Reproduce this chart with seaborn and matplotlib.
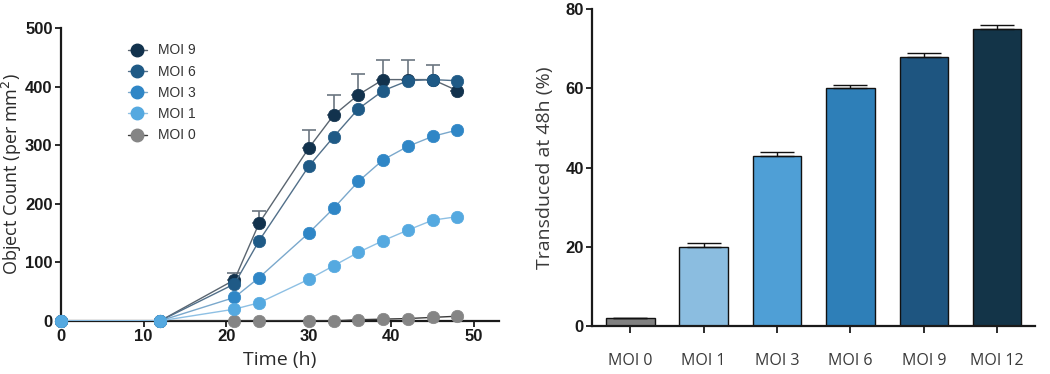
import matplotlib
matplotlib.use("Agg")
import matplotlib.pyplot as plt
import seaborn as sns
import pandas as pd
import numpy as np

# ---------------- data ----------------
time_h = [0, 12, 21, 24, 30, 33, 36, 39, 42, 45, 48]
moi9 = [0, 0, 70, 167, 295, 351, 386, 412, 412, 412, 393]
moi9_err = [0, 0, 11, 20, 31, 35, 35, 34, 34, 25, 0]
moi6 = [0, 0, 63, 137, 264, 314, 362, 393, 410, 412, 410]
moi3 = [0, 0, 40, 74, 150, 192, 238, 275, 298, 315, 326]
moi1 = [0, 0, 20, 31, 71, 94, 117, 137, 155, 172, 178]
moi0 = [0, 0, 0, 0, 0, 0, 2, 3, 4, 6, 8]

bar_labels = ["MOI 0", "MOI 1", "MOI 3", "MOI 6", "MOI 9", "MOI 12"]
bar_values = [2.1, 20.0, 43.0, 60.1, 68.0, 75.0]
bar_errors = [0.0, 1.0, 1.0, 0.8, 1.0, 1.0]

line_colors = {"MOI 9": "#12324d", "MOI 6": "#1f5a86", "MOI 3": "#2f86c6",
               "MOI 1": "#55a9e0", "MOI 0": "#858585"}
line_edge = {"MOI 9": "#5a6570", "MOI 6": "#52708a", "MOI 3": "#7aa8cc",
             "MOI 1": "#8ec0e4", "MOI 0": "#3a3a3a"}
bar_colors = ["#808080", "#8bbde0", "#4f9fd6", "#2e7fb8", "#1e5580", "#133448"]

# ---------------- figure ----------------
sns.set_theme(style="ticks")
plt.rcParams['font.family'] = ['Liberation Sans', 'DejaVu Sans']

fig = plt.figure(figsize=(10.5, 3.74), dpi=100)
ax1 = fig.add_axes([0.058, 0.142, 0.417, 0.783])
ax2 = fig.add_axes([0.564, 0.128, 0.422, 0.848])

# ---- left: time course ----
series = {"MOI 0": moi0, "MOI 9": moi9, "MOI 6": moi6, "MOI 3": moi3, "MOI 1": moi1}
rows = []
for name, vals in series.items():
    for t, v in zip(time_h, vals):
        rows.append({"Time": t, "Count": v, "MOI": name})
df = pd.DataFrame(rows)

# error bars for MOI 9 (upper only)
ax1.errorbar(time_h, moi9, yerr=[np.zeros(len(moi9)), moi9_err], fmt="none",
             ecolor="#6b7580", elinewidth=1.2, capsize=5, capthick=1.2, zorder=2)

order_draw = ["MOI 0", "MOI 9", "MOI 6", "MOI 3", "MOI 1"]
for i, name in enumerate(order_draw):
    sub = df[df["MOI"] == name]
    sns.lineplot(data=sub, x="Time", y="Count", ax=ax1, color=line_edge[name],
                 lw=1.0, zorder=3 + i, legend=False)
    sns.scatterplot(data=sub, x="Time", y="Count", ax=ax1, color=line_colors[name],
                    s=80, edgecolor=line_colors[name], linewidth=0.5,
                    zorder=3.5 + i, clip_on=False, legend=False)

ax1.set_xlim(0, 53)
ax1.set_ylim(0, 500)
ax1.set_xticks([0, 10, 20, 30, 40, 50])
ax1.set_yticks([0, 100, 200, 300, 400, 500])
for lab in ax1.get_xticklabels() + ax1.get_yticklabels():
    lab.set_fontweight("bold")
    lab.set_fontsize(12)
    lab.set_color("#1a1a1a")
ax1.tick_params(axis="both", length=4, width=1.3, color="#1a1a1a", pad=2)
for s in ["left", "bottom"]:
    ax1.spines[s].set_linewidth(1.6)
    ax1.spines[s].set_color("#1a1a1a")
sns.despine(ax=ax1)
ax1.set_xlabel("Time (h)", fontsize=14, family=["Open Sans", "DejaVu Sans"],
               color="#2a2a2a", labelpad=5)
ax1.set_ylabel("Object Count (per mm$^2$)", fontsize=13,
               family=["Open Sans", "DejaVu Sans"], color="#2a2a2a", labelpad=1)

# legend
from matplotlib.lines import Line2D
handles = [Line2D([0], [0], color=line_edge[n], lw=1.0, marker="o", markersize=9,
                  markerfacecolor=line_colors[n], markeredgecolor=line_colors[n])
           for n in ["MOI 9", "MOI 6", "MOI 3", "MOI 1", "MOI 0"]]
leg = ax1.legend(handles, ["MOI 9", "MOI 6", "MOI 3", "MOI 1", "MOI 0"],
                 loc="upper left", bbox_to_anchor=(0.124, 0.99), frameon=False,
                 fontsize=10, handlelength=1.4, handletextpad=0.8,
                 labelspacing=0.52)
for t in leg.get_texts():
    t.set_color("#333333")

# ---- right: bars ----
bdf = pd.DataFrame({"MOI": bar_labels, "Transduced": bar_values})
sns.barplot(data=bdf, x="MOI", y="Transduced", hue="MOI", palette=bar_colors,
            ax=ax2, width=0.66, edgecolor="#111111", linewidth=1.0,
            legend=False, saturation=1, errorbar=None)
ax2.errorbar(range(len(bar_values)), bar_values,
             yerr=[np.zeros(len(bar_values)), bar_errors], fmt="none",
             ecolor="#111111", elinewidth=1.0, capsize=12, capthick=1.0, zorder=5)
ax2.set_xlim(-0.52, 5.52)
ax2.set_ylim(0, 80)
ax2.set_yticks([0, 20, 40, 60, 80])
for lab in ax2.get_yticklabels():
    lab.set_fontweight("bold")
    lab.set_fontsize(12)
    lab.set_color("#1a1a1a")
for lab in ax2.get_xticklabels():
    lab.set_fontsize(11.5)
    lab.set_family(["Open Sans", "DejaVu Sans"])
    lab.set_color("#3a3a3a")
ax2.tick_params(axis="y", length=4, width=1.3, color="#1a1a1a", pad=2)
ax2.tick_params(axis="x", length=5, width=1.3, color="#1a1a1a", pad=14)
for s in ["left", "bottom"]:
    ax2.spines[s].set_linewidth(1.6)
    ax2.spines[s].set_color("#1a1a1a")
sns.despine(ax=ax2)
ax2.set_xlabel("")
ax2.set_ylabel("Transduced at 48h (%)", fontsize=14,
               family=["Open Sans", "DejaVu Sans"], color="#3a3a3a", labelpad=8)

fig.savefig("out.png", dpi=100)
